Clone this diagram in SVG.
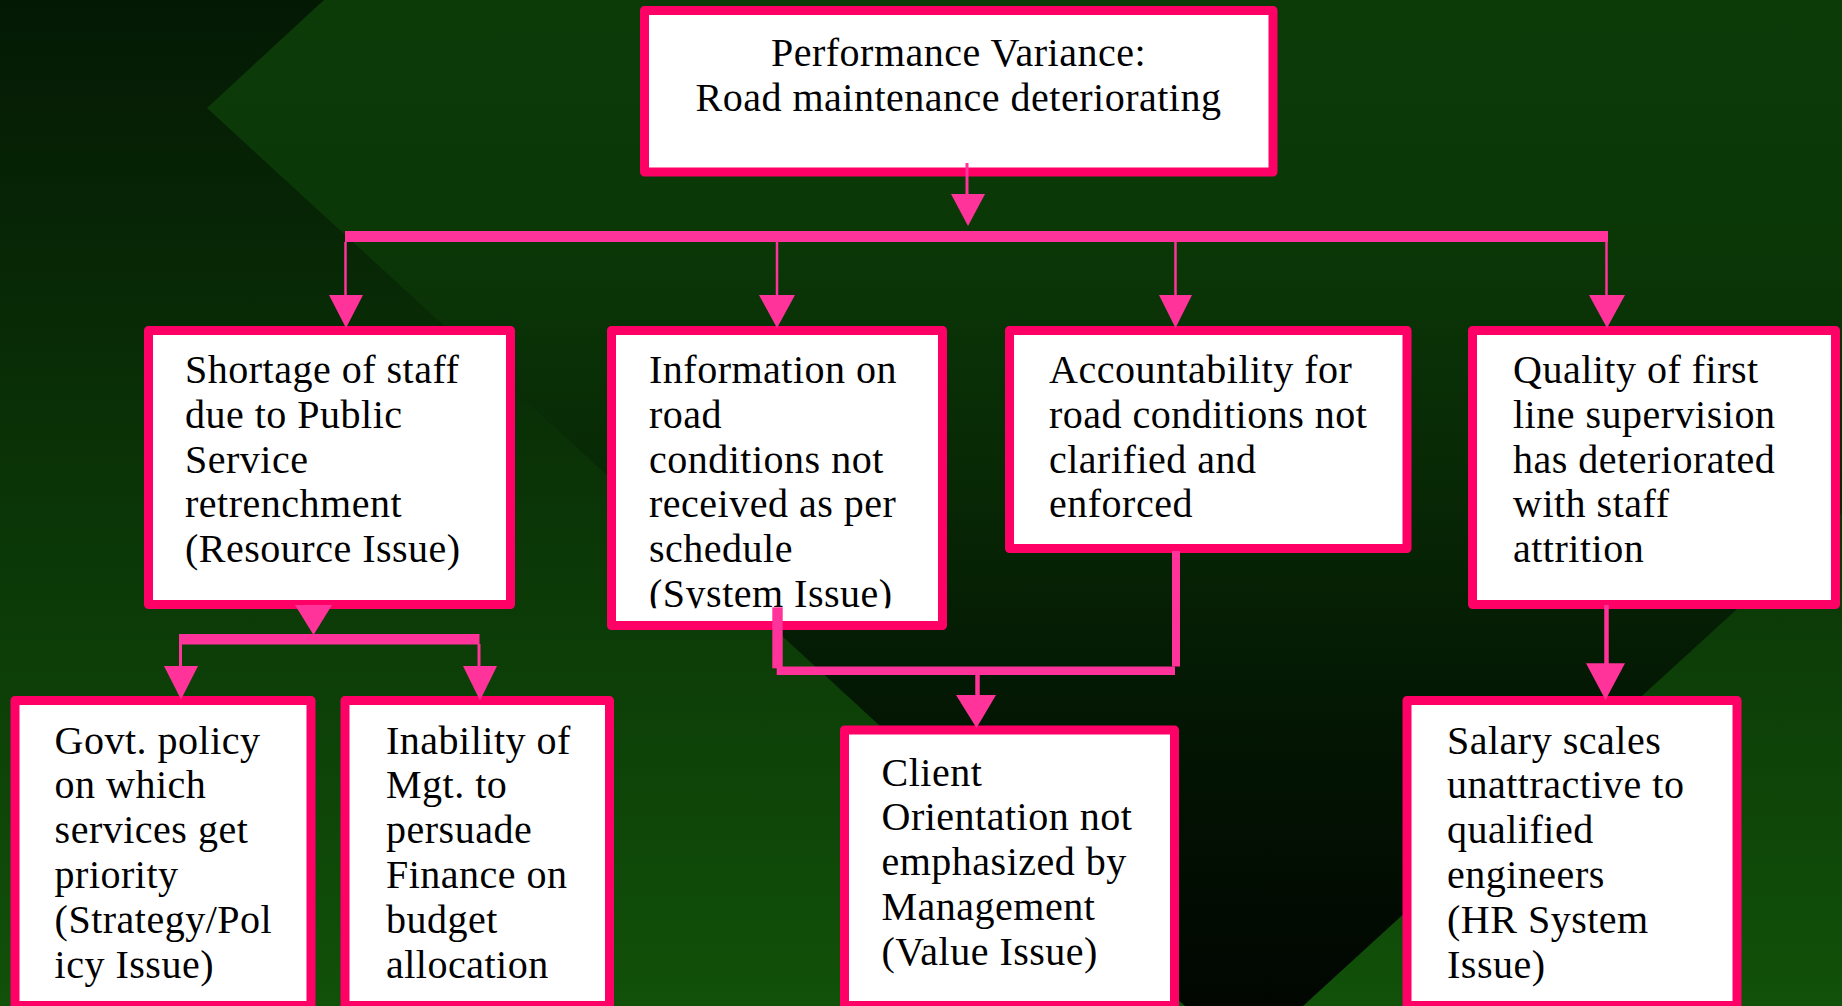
<svg xmlns="http://www.w3.org/2000/svg" width="1842" height="1006" viewBox="0 0 1842 1006">
  <defs>
    <!-- central band: bright green at the top fading to near black -->
    <linearGradient id="bgMid" gradientUnits="userSpaceOnUse" x1="0" y1="0" x2="0" y2="1006">
      <stop offset="0" stop-color="#0C3B08"/>
      <stop offset="0.25" stop-color="#0B3707"/>
      <stop offset="0.5" stop-color="#072705"/>
      <stop offset="0.75" stop-color="#031403"/>
      <stop offset="1" stop-color="#010601"/>
    </linearGradient>
    <!-- side wedges: dark at the top, bright green at the bottom -->
    <linearGradient id="bgSide" gradientUnits="userSpaceOnUse" x1="0" y1="0" x2="0" y2="1006">
      <stop offset="0" stop-color="#041904"/>
      <stop offset="1" stop-color="#115109"/>
    </linearGradient>
    <clipPath id="clipInfo">
      <rect x="616" y="335" width="322" height="273.3"/>
    </clipPath>
  </defs>
  <style>
    .box rect { fill: #FFFFFF; stroke: #FF0066; stroke-width: 9; stroke-linejoin: round; }
    .box text { font-family: "Liberation Serif", "Times New Roman", serif; font-size: 40px; fill: #000000; letter-spacing: 0.5px; }
    .wire { stroke: #FF3399; fill: none; }
    .bar, .head { fill: #FF3399; }
  </style>

  <!-- background -->
  <g id="background">
    <rect x="0" y="0" width="1842" height="1006" fill="url(#bgMid)"/>
    <polygon points="0,0 324,0 207,108 1185,1006 0,1006" fill="url(#bgSide)"/>
    <polygon points="1842,513 1303,1006 1842,1006" fill="url(#bgSide)"/>
  </g>

  <!-- root -->
  <g id="node-variance" class="box">
    <rect x="644.5" y="10.5" width="628.5" height="161.5"/>
    <text x="958.5" y="65.7" text-anchor="middle">Performance Variance:</text>
    <text x="958.5" y="111" text-anchor="middle">Road maintenance deteriorating</text>
  </g>

  <!-- first level causes -->
  <g id="node-staff" class="box">
    <rect x="148.5" y="330.5" width="362" height="274"/>
    <text x="185" y="383">
      <tspan x="185" y="383">Shortage of staff</tspan>
      <tspan x="185" y="427.8">due to Public</tspan>
      <tspan x="185" y="472.6">Service</tspan>
      <tspan x="185" y="517.4">retrenchment</tspan>
      <tspan x="185" y="562.2">(Resource Issue)</tspan>
    </text>
  </g>

  <g id="node-information" class="box">
    <rect x="611.5" y="330.5" width="331" height="295"/>
    <text x="649" y="383" clip-path="url(#clipInfo)">
      <tspan x="649" y="383">Information on</tspan>
      <tspan x="649" y="427.8">road</tspan>
      <tspan x="649" y="472.6">conditions not</tspan>
      <tspan x="649" y="517.4">received as per</tspan>
      <tspan x="649" y="562.2">schedule</tspan>
      <tspan x="649" y="607">(System Issue)</tspan>
    </text>
  </g>

  <g id="node-accountability" class="box">
    <rect x="1009.5" y="330.5" width="397.5" height="218"/>
    <text x="1049" y="383">
      <tspan x="1049" y="383">Accountability for</tspan>
      <tspan x="1049" y="427.8">road conditions not</tspan>
      <tspan x="1049" y="472.6">clarified and</tspan>
      <tspan x="1049" y="517.4">enforced</tspan>
    </text>
  </g>

  <g id="node-supervision" class="box">
    <rect x="1472.5" y="330.5" width="363" height="274"/>
    <text x="1513" y="383">
      <tspan x="1513" y="383">Quality of first</tspan>
      <tspan x="1513" y="427.8">line supervision</tspan>
      <tspan x="1513" y="472.6">has deteriorated</tspan>
      <tspan x="1513" y="517.4">with staff</tspan>
      <tspan x="1513" y="562.2">attrition</tspan>
    </text>
  </g>

  <!-- second level causes -->
  <g id="node-policy" class="box">
    <rect x="15" y="700.5" width="296" height="305"/>
    <text x="54.6" y="753.5">
      <tspan x="54.6" y="753.5">Govt. policy</tspan>
      <tspan x="54.6" y="798.3">on which</tspan>
      <tspan x="54.6" y="843.1">services get</tspan>
      <tspan x="54.6" y="887.9">priority</tspan>
      <tspan x="54.6" y="932.7">(Strategy/Pol</tspan>
      <tspan x="54.6" y="977.5">icy Issue)</tspan>
    </text>
  </g>

  <g id="node-finance" class="box">
    <rect x="345" y="700.5" width="264.5" height="305"/>
    <text x="386" y="753.5">
      <tspan x="386" y="753.5">Inability of</tspan>
      <tspan x="386" y="798.3">Mgt. to</tspan>
      <tspan x="386" y="843.1">persuade</tspan>
      <tspan x="386" y="887.9">Finance on</tspan>
      <tspan x="386" y="932.7">budget</tspan>
      <tspan x="386" y="977.5">allocation</tspan>
    </text>
  </g>

  <g id="node-client" class="box">
    <rect x="844.5" y="730" width="330" height="275.5"/>
    <text x="881.5" y="785.5">
      <tspan x="881.5" y="785.5">Client</tspan>
      <tspan x="881.5" y="830.3">Orientation not</tspan>
      <tspan x="881.5" y="875.1">emphasized by</tspan>
      <tspan x="881.5" y="919.9">Management</tspan>
      <tspan x="881.5" y="964.7">(Value Issue)</tspan>
    </text>
  </g>

  <g id="node-salary" class="box">
    <rect x="1407" y="700.5" width="330" height="305"/>
    <text x="1447" y="753.5">
      <tspan x="1447" y="753.5">Salary scales</tspan>
      <tspan x="1447" y="798.3">unattractive to</tspan>
      <tspan x="1447" y="843.1">qualified</tspan>
      <tspan x="1447" y="887.9">engineers</tspan>
      <tspan x="1447" y="932.7">(HR System</tspan>
      <tspan x="1447" y="977.5">Issue)</tspan>
    </text>
  </g>

  <!-- connectors -->
  <g id="connectors">
    <!-- root to first-level bus -->
    <line class="wire" x1="967" y1="163" x2="967" y2="195" stroke-width="3"/>
    <polygon class="head" points="951,194 985,194 968,226"/>
    <rect class="bar" x="345" y="231" width="1263" height="11"/>
    <line class="wire" x1="345.5" y1="242" x2="345.5" y2="296" stroke-width="2.5"/>
    <line class="wire" x1="777" y1="242" x2="777" y2="296" stroke-width="2.5"/>
    <line class="wire" x1="1175.5" y1="242" x2="1175.5" y2="296" stroke-width="2.5"/>
    <line class="wire" x1="1606.5" y1="242" x2="1606.5" y2="296" stroke-width="2.5"/>
    <polygon class="head" points="329,295 363,295 346,328"/>
    <polygon class="head" points="759,295 795,295 777,328"/>
    <polygon class="head" points="1159,295 1192,295 1175.5,328"/>
    <polygon class="head" points="1589,295 1625,295 1607,328"/>

    <!-- staff shortage to its two causes -->
    <polygon class="head" points="295,605 332,605 313.5,635"/>
    <rect class="bar" x="179" y="634" width="300.5" height="10.5"/>
    <line class="wire" x1="180.5" y1="644" x2="180.5" y2="667" stroke-width="3"/>
    <line class="wire" x1="479" y1="644" x2="479" y2="667" stroke-width="3"/>
    <polygon class="head" points="164,666 198,666 181,699.5"/>
    <polygon class="head" points="463,666 497,666 480,700.5"/>

    <!-- information + accountability merge into client orientation -->
    <rect class="bar" x="772.3" y="607.3" width="10.4" height="61"/>
    <rect class="bar" x="776.7" y="666.5" width="398.3" height="8.5"/>
    <rect class="bar" x="1172" y="551" width="8" height="115.5"/>
    <line class="wire" x1="977.5" y1="675" x2="977.5" y2="696" stroke-width="4.5"/>
    <polygon class="head" points="956,695 996,695 976.5,728"/>

    <!-- supervision to salary scales -->
    <line class="wire" x1="1606.5" y1="605" x2="1606.5" y2="664" stroke-width="4.5"/>
    <polygon class="head" points="1586,663.3 1625,663.3 1605.5,700"/>
  </g>
</svg>
